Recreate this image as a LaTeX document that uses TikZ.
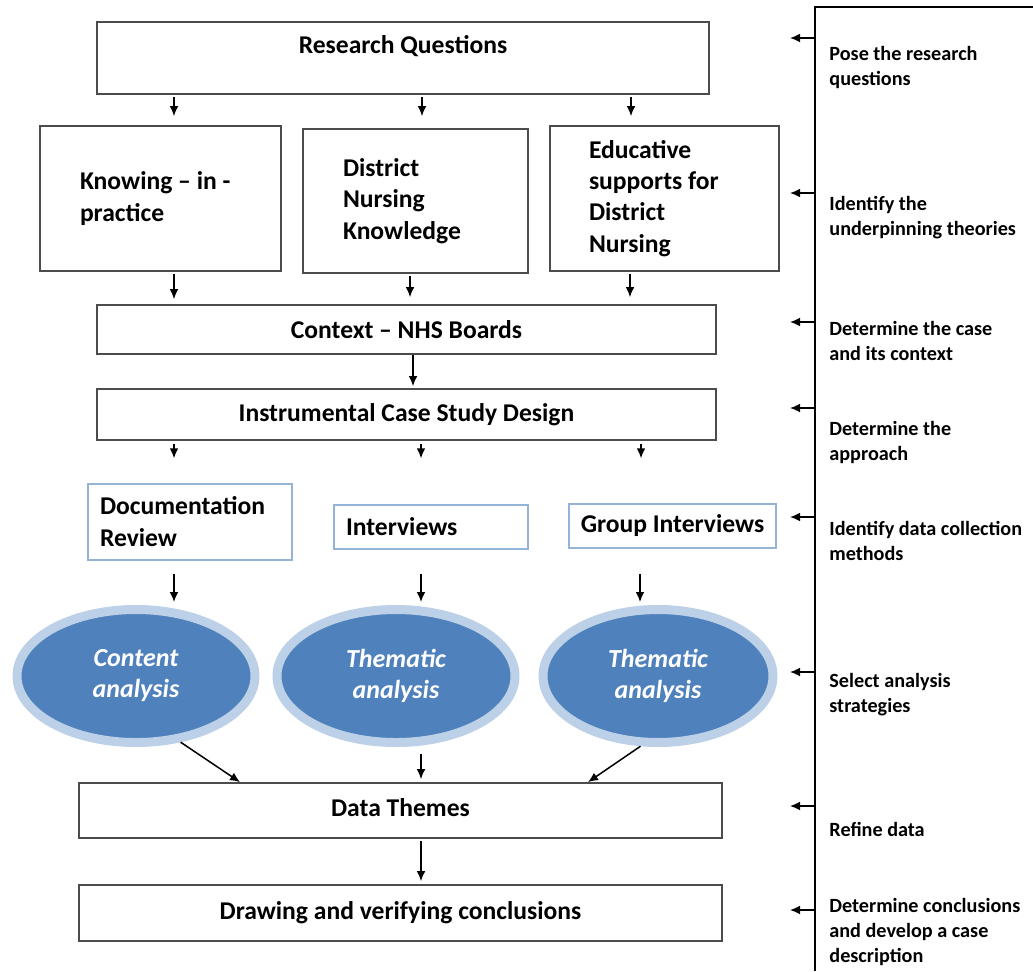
\documentclass[tikz,border=0pt]{standalone}
\usepackage{fontspec}
\setmainfont{Carlito}
\usetikzlibrary{arrows.meta,shapes.geometric}
\definecolor{ringblue}{HTML}{BCD0E7}
\definecolor{fillblue}{HTML}{4F81BD}
\definecolor{methblue}{HTML}{95B3D7}
\tikzset{
  stagebox/.style={draw=black!70, line width=0.9pt, align=center, inner sep=0pt,
    font=\fontsize{12.8}{15.6}\selectfont\bfseries},
  theorybox/.style={stagebox, align=flush left, inner xsep=20pt, inner ysep=0pt},
  methodbox/.style={draw=methblue, line width=0.7pt, align=flush left, inner ysep=0pt,
    font=\fontsize{12.8}{16}\selectfont\bfseries},
  analysis/.style={ellipse, fill=fillblue, draw=ringblue, line width=4.5pt,
    minimum width=119pt, minimum height=66.5pt, inner sep=0pt, align=center,
    text=white, font=\fontsize{13}{15.5}\selectfont\bfseries\itshape},
  flow/.style={-{Latex[length=5pt,width=4.4pt]}, line width=0.75pt},
  sidenote/.style={anchor=north west, inner sep=0pt, align=left,
    font=\fontsize{10.1}{12.4}\selectfont\bfseries}
}
\begin{document}
\begin{tikzpicture}[x=0.5pt,y=-0.5pt]
\useasboundingbox (0,0) rectangle (1033,971);

% main column
\node[stagebox, minimum width=306pt, minimum height=36pt, text height=8pt, text depth=12.6pt] (rq) at (403,58) {Research Questions};
\node[theorybox, text width=80.5pt, minimum height=72.5pt] (kip) at (160.5,198.5) {Knowing -- in -\\practice};
\node[theorybox, text width=72.5pt, minimum height=72pt] (dnk) at (415.5,201) {District\\Nursing\\Knowledge};
\node[theorybox, inner xsep=19.5pt, text width=75.5pt, minimum height=72.5pt] (eds) at (664.5,198.5) {Educative\\supports for\\District\\Nursing};
\node[stagebox, minimum width=309.5pt, minimum height=24.5pt] (ctx) at (406.5,329.5) {Context -- NHS Boards};
\node[stagebox, minimum width=309.5pt, minimum height=25.5pt] (ics) at (406.5,414.5) {Instrumental Case Study Design};

\node[methodbox, inner xsep=6pt, text width=90pt, minimum height=38pt] (doc) at (190,522) {Documentation\\Review};
\node[methodbox, inner xsep=6pt, text width=85pt, minimum height=22pt] (int) at (431,527) {Interviews};
\node[methodbox, inner xsep=0pt, align=center, minimum width=103.5pt, minimum height=22pt] (grp) at (672.5,526) {Group Interviews};

\node[analysis] (ca) at (136,676) {Content\\analysis};
\node[analysis] (ta1) at (396,676) {Thematic\\analysis};
\node[analysis, minimum width=115pt] (ta2) at (658,676) {Thematic\\analysis};

\node[stagebox, minimum width=321.5pt, minimum height=27.5pt, text depth=3pt] (dt) at (400.5,810.5) {Data Themes};
\node[stagebox, minimum width=321.5pt, minimum height=28pt] (dvc) at (400.5,913) {Drawing and verifying conclusions};

% connectors
\draw[flow, shorten <=1pt, shorten >=4.5pt] (rq.south -| 174,0) -- (kip.north -| 174,0);
\draw[flow, shorten <=1pt, shorten >=6pt] (rq.south -| 422,0) -- (dnk.north -| 422,0);
\draw[flow, shorten <=1pt, shorten >=4.5pt] (rq.south -| 631,0) -- (eds.north -| 631,0);
\draw[flow, shorten <=1pt, shorten >=2.5pt] (kip.south -| 174,0) -- (ctx.north -| 174,0);
\draw[flow, shorten <=1pt, shorten >=3.5pt] (dnk.south -| 410,0) -- (ctx.north -| 410,0);
\draw[flow, shorten <=1pt, shorten >=3.5pt] (eds.south -| 630,0) -- (ctx.north -| 630,0);
\draw[flow, shorten >=1pt] (ctx.south -| 413,0) -- (ics.north -| 413,0);
\draw[flow, shorten <=1.5pt, shorten >=12.5pt] (ics.south -| 174,0) -- (doc.north -| 174,0);
\draw[flow, shorten <=1.5pt, shorten >=23pt] (ics.south -| 421,0) -- (int.north -| 421,0);
\draw[flow, shorten <=1.5pt, shorten >=22.5pt] (ics.south -| 641,0) -- (grp.north -| 641,0);
\draw[flow, shorten <=6.5pt, shorten >=1.5pt] (doc.south -| 174,0) -- (ca.north -| 174,0);
\draw[flow, shorten <=12pt, shorten >=1.5pt] (int.south -| 421,0) -- (ta1.north -| 421,0);
\draw[flow, shorten <=12.5pt, shorten >=1.5pt] (grp.south -| 640,0) -- (ta2.north -| 640,0);
\draw[flow] (ca.-56) -- (dt.north -| 240,0);
\draw[flow, shorten <=3.5pt, shorten >=1.5pt] (ta1.south -| 421,0) -- (dt.north -| 421,0);
\draw[flow] (ta2.-104) -- (dt.north -| 588,0);
\draw[flow, shorten <=1pt, shorten >=1.5pt] (dt.south -| 421,0) -- (dvc.north -| 421,0);

% stage panel
\draw[line width=1pt] (1033,7) -- (815,7) -- (815,971);
\foreach \y in {38,193,322,408,517,672,806,910}
  \draw[flow] (815,\y) -- (790,\y);
\node[sidenote] (s1) at (829,46) {Pose the research\\questions};
\node[sidenote] (s2) at (829,196) {Identify the\\underpinning theories};
\node[sidenote] (s3) at (829,321) {Determine the case\\and its context};
\node[sidenote] (s4) at (829,421) {Determine the\\approach};
\node[sidenote] (s5) at (829,521) {Identify data collection\\methods};
\node[sidenote] (s6) at (829,673) {Select analysis\\strategies};
\node[sidenote] (s7) at (829,822) {Refine data};
\node[sidenote] (s8) at (829,898) {Determine conclusions\\and develop a case\\description};
\end{tikzpicture}
\end{document}
